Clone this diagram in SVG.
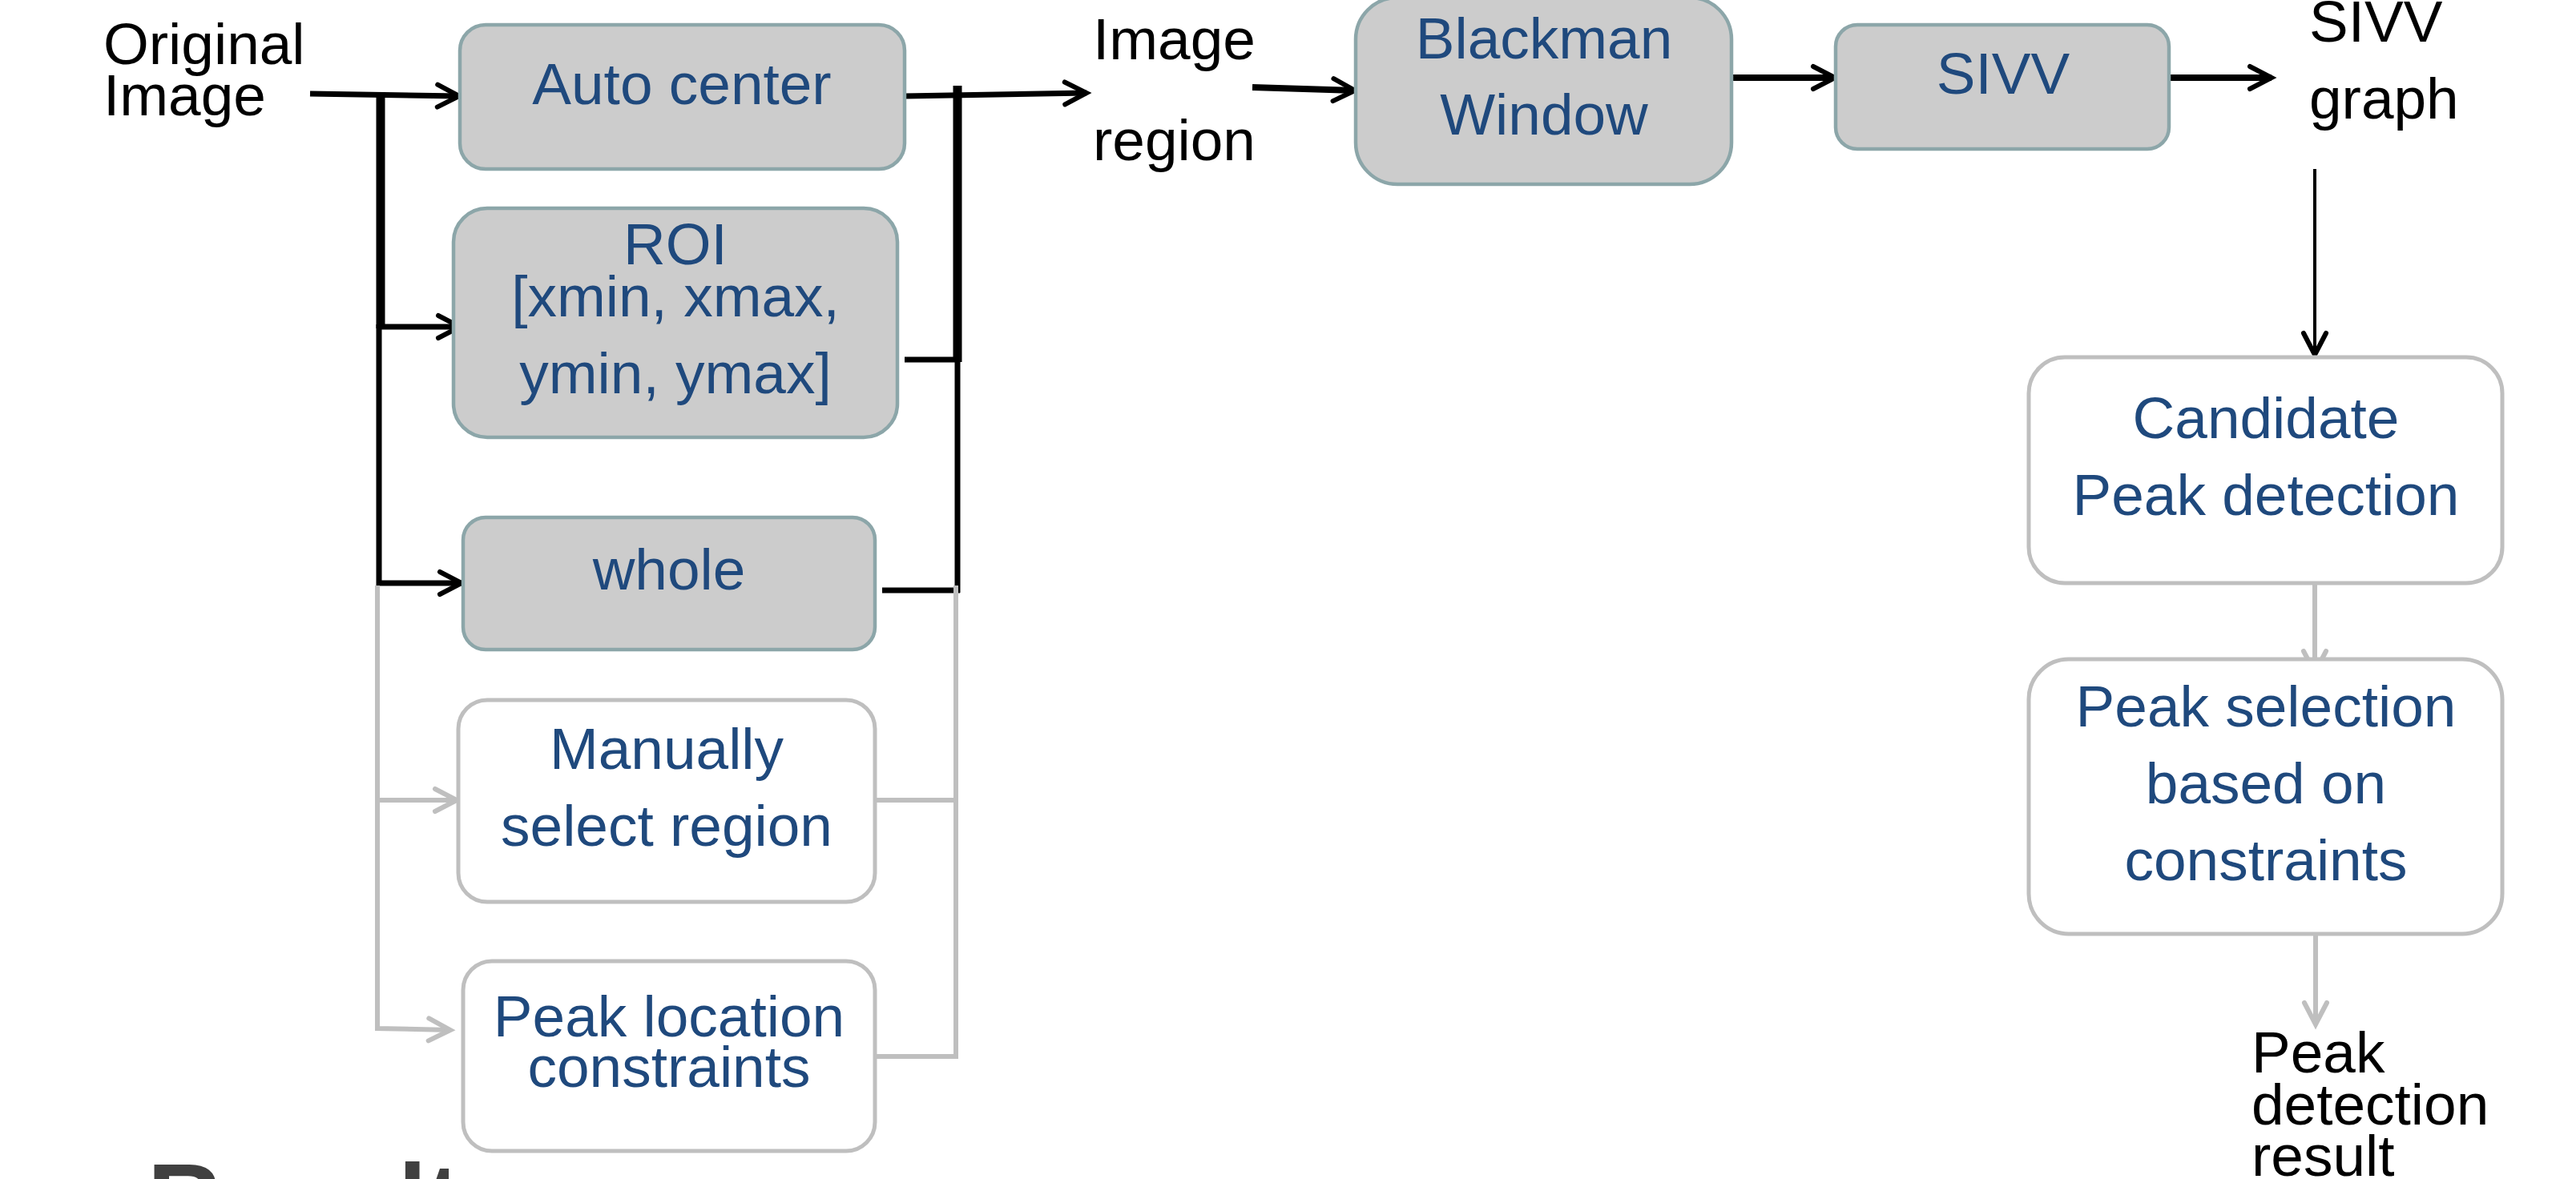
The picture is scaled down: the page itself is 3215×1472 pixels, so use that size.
<svg xmlns="http://www.w3.org/2000/svg" width="3215" height="1472" viewBox="0 0 3215 1472">
<style>
  text { font-family: "Liberation Sans", Arial, sans-serif; font-size: 73px; }
  .blue { fill: #1F497D; text-anchor: middle; }
  .lbl { fill: #000; }
  .gbox { fill: #CCCCCC; stroke: #8CA6A9; stroke-width: 4.5; }
  .wbox { fill: #FFFFFF; stroke: #BFBFBF; stroke-width: 5; }
  .k { stroke: #000; fill: none; }
  .g { stroke: #BFBFBF; fill: none; stroke-width: 6; }
</style>
<defs>
  <marker id="ak" markerUnits="userSpaceOnUse" markerWidth="44" markerHeight="44" viewBox="-36 -22 44 44" refX="0" refY="0" orient="auto" overflow="visible">
    <path d="M-27,-14 L0,0 L-27,14" fill="none" stroke="#000" stroke-width="6" stroke-linecap="round"/>
  </marker>
  <marker id="ag" markerUnits="userSpaceOnUse" markerWidth="44" markerHeight="44" viewBox="-36 -22 44 44" refX="0" refY="0" orient="auto" overflow="visible">
    <path d="M-27,-14 L0,0 L-27,14" fill="none" stroke="#BFBFBF" stroke-width="6" stroke-linecap="round"/>
  </marker>
</defs>
<rect width="3215" height="1472" fill="#FFFFFF"/>

<g id="connectors">
  <!-- black -->
  <path class="k" stroke-width="7" d="M387,117 L573,120" marker-end="url(#ak)"/>
  <path class="k" stroke-width="11" d="M475,118 L475,410"/>
  <path class="k" stroke-width="7" d="M474,408 L574,408" marker-end="url(#ak)"/>
  <path class="k" stroke-width="7" d="M473,405 L473,731"/>
  <path class="k" stroke-width="7" d="M470,728 L576,728" marker-end="url(#ak)"/>
  <path class="k" stroke-width="7" d="M1129,120 L1356,116" marker-end="url(#ak)"/>
  <path class="k" stroke-width="11" d="M1195,107 L1195,452"/>
  <path class="k" stroke-width="7" d="M1129,449 L1195,449"/>
  <path class="k" stroke-width="7" d="M1195,446 L1195,740"/>
  <path class="k" stroke-width="7" d="M1101,737 L1198,737"/>
  <path class="k" stroke-width="8" d="M1563,109 L1691,113" marker-end="url(#ak)"/>
  <path class="k" stroke-width="8" d="M2161,97 L2290,97" marker-end="url(#ak)"/>
  <path class="k" stroke-width="8" d="M2707,97 L2835,97" marker-end="url(#ak)"/>
  <path class="k" stroke-width="4" d="M2889,211 L2889,443" marker-end="url(#ak)"/>
  <!-- gray -->
  <path class="g" d="M471,731 L471,1284 L562,1286" marker-end="url(#ag)"/>
  <path class="g" d="M471,999 L570,999" marker-end="url(#ag)"/>
  <path class="g" d="M1193,731 L1193,1319 L1092,1319"/>
  <path class="g" d="M1092,999 L1193,999"/>
  <path class="g" d="M2889,728 L2889,840" marker-end="url(#ag)"/>
  <path class="g" d="M2890,1166 L2890,1279" marker-end="url(#ag)"/>
</g>

<g id="label-original">
  <text class="lbl" x="129" y="80">Original</text>
  <text class="lbl" x="129" y="144">Image</text>
</g>

<g id="node-auto-center">
  <rect class="gbox" x="574" y="31" width="555" height="180" rx="32"/>
  <text class="blue" x="851" y="130">Auto center</text>
</g>

<g id="node-roi">
  <rect class="gbox" x="566" y="260" width="554" height="286" rx="42"/>
  <text class="blue" x="843" y="330">ROI</text>
  <text class="blue" x="843" y="395">[xmin, xmax,</text>
  <text class="blue" x="843" y="491">ymin, ymax]</text>
</g>

<g id="node-whole">
  <rect class="gbox" x="578" y="646" width="514" height="165" rx="28"/>
  <text class="blue" x="835" y="736">whole</text>
</g>

<g id="node-manual">
  <rect class="wbox" x="572" y="874" width="520" height="252" rx="36"/>
  <text class="blue" x="832" y="960">Manually</text>
  <text class="blue" x="832" y="1056">select region</text>
</g>

<g id="node-peak-location">
  <rect class="wbox" x="578" y="1200" width="514" height="237" rx="36"/>
  <text class="blue" x="835" y="1294">Peak location</text>
  <text class="blue" x="835" y="1357">constraints</text>
</g>

<g id="label-image-region">
  <text class="lbl" x="1364" y="74">Image</text>
  <text class="lbl" x="1364" y="200">region</text>
</g>

<g id="node-blackman">
  <rect class="gbox" x="1692" y="-3" width="469" height="233" rx="52"/>
  <text class="blue" x="1927" y="73">Blackman</text>
  <text class="blue" x="1927" y="168">Window</text>
</g>

<g id="node-sivv">
  <rect class="gbox" x="2291" y="31" width="416" height="155" rx="27"/>
  <text class="blue" x="2500" y="117">SIVV</text>
</g>

<g id="label-sivv-graph">
  <text class="lbl" x="2882" y="52">SIVV</text>
  <text class="lbl" x="2882" y="148">graph</text>
</g>

<g id="node-candidate">
  <rect class="wbox" x="2532" y="446" width="591" height="282" rx="45"/>
  <text class="blue" x="2828" y="547">Candidate</text>
  <text class="blue" x="2828" y="643">Peak detection</text>
</g>

<g id="node-peak-selection">
  <rect class="wbox" x="2532" y="823" width="591" height="343" rx="50"/>
  <text class="blue" x="2828" y="907">Peak selection</text>
  <text class="blue" x="2828" y="1003">based on</text>
  <text class="blue" x="2828" y="1099">constraints</text>
</g>

<g id="label-result">
  <text class="lbl" x="2810" y="1339">Peak</text>
  <text class="lbl" x="2810" y="1404">detection</text>
  <text class="lbl" x="2810" y="1468">result</text>
</g>

<text x="184" y="1543" style="font-size:128px;font-weight:bold;fill:#404040">Results</text>
</svg>
